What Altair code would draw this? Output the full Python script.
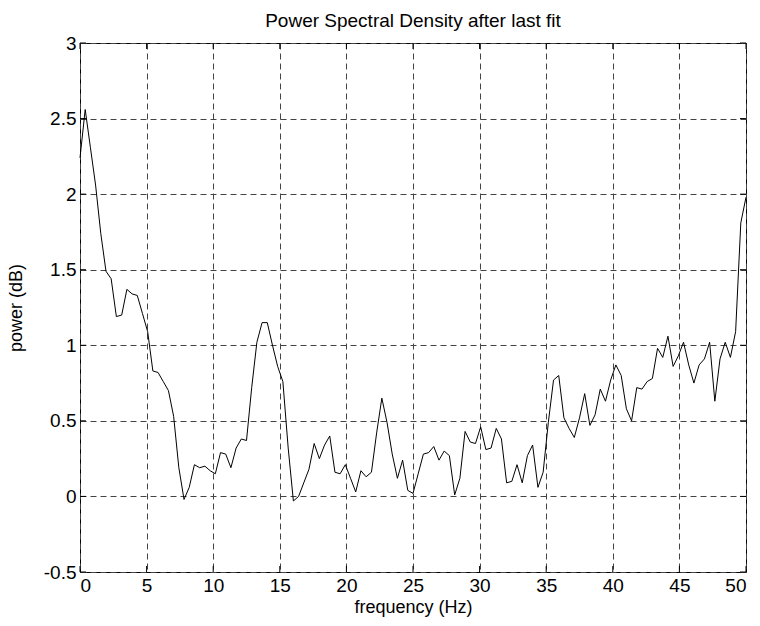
import altair as alt
import pandas as pd

# frequency bins (Hz)
freq = [
    0.00, 0.39, 0.78, 1.17, 1.56, 1.95, 2.34, 2.73, 3.13, 3.52,
    3.91, 4.30, 4.69, 5.08, 5.47, 5.86, 6.25, 6.64, 7.03, 7.42,
    7.81, 8.20, 8.59, 8.98, 9.38, 9.77, 10.16, 10.55, 10.94, 11.33,
    11.72, 12.11, 12.50, 12.89, 13.28, 13.67, 14.06, 14.45, 14.84, 15.23,
    15.63, 16.02, 16.41, 16.80, 17.19, 17.58, 17.97, 18.36, 18.75, 19.14,
    19.53, 19.92, 20.31, 20.70, 21.09, 21.48, 21.88, 22.27, 22.66, 23.05,
    23.44, 23.83, 24.22, 24.61, 25.00, 25.39, 25.78, 26.17, 26.56, 26.95,
    27.34, 27.73, 28.13, 28.52, 28.91, 29.30, 29.69, 30.08, 30.47, 30.86,
    31.25, 31.64, 32.03, 32.42, 32.81, 33.20, 33.59, 33.98, 34.38, 34.77,
    35.16, 35.55, 35.94, 36.33, 36.72, 37.11, 37.50, 37.89, 38.28, 38.67,
    39.06, 39.45, 39.84, 40.23, 40.63, 41.02, 41.41, 41.80, 42.19, 42.58,
    42.97, 43.36, 43.75, 44.14, 44.53, 44.92, 45.31, 45.70, 46.09, 46.48,
    46.88, 47.27, 47.66, 48.05, 48.44, 48.83, 49.22, 49.61, 50.00,
]

# power (dB)
power = [
    2.24, 2.56, 2.31, 2.06, 1.74, 1.49, 1.44, 1.19, 1.20, 1.37,
    1.34, 1.33, 1.21, 1.09, 0.83, 0.82, 0.76, 0.70, 0.53, 0.19,
    -0.02, 0.06, 0.21, 0.19, 0.20, 0.17, 0.15, 0.29, 0.28, 0.19,
    0.32, 0.38, 0.37, 0.72, 1.02, 1.15, 1.15, 1.00, 0.86, 0.76,
    0.32, -0.03, 0.00, 0.09, 0.18, 0.35, 0.25, 0.34, 0.40, 0.16,
    0.15, 0.21, 0.12, 0.03, 0.17, 0.13, 0.16, 0.42, 0.65, 0.49,
    0.28, 0.12, 0.24, 0.04, 0.02, 0.15, 0.28, 0.29, 0.33, 0.24,
    0.30, 0.27, 0.01, 0.12, 0.43, 0.36, 0.35, 0.46, 0.31, 0.32,
    0.45, 0.38, 0.09, 0.10, 0.21, 0.09, 0.27, 0.34, 0.06, 0.16,
    0.49, 0.77, 0.80, 0.52, 0.45, 0.39, 0.52, 0.68, 0.47, 0.54,
    0.71, 0.63, 0.77, 0.87, 0.80, 0.58, 0.50, 0.72, 0.71, 0.76,
    0.78, 0.98, 0.92, 1.06, 0.86, 0.93, 1.02, 0.87, 0.75, 0.87,
    0.91, 1.02, 0.63, 0.91, 1.02, 0.92, 1.09, 1.81, 1.98,
]

x_ticks = [0, 5, 10, 15, 20, 25, 30, 35, 40, 45, 50]
y_ticks = [-0.5, 0, 0.5, 1, 1.5, 2, 2.5, 3]

W, H = 666, 529
FONT = "Liberation Sans"

df = pd.DataFrame({"freq": freq, "power": power})
xt = pd.DataFrame({"t": x_ticks})
yt = pd.DataFrame({"t": y_ticks})

xscale = alt.Scale(domain=[0, 50], nice=False, zero=False)
yscale = alt.Scale(domain=[-0.5, 3], nice=False, zero=False)

line = alt.Chart(df).mark_line(color="black", strokeWidth=1).encode(
    x=alt.X("freq:Q", scale=xscale, title="frequency (Hz)",
            axis=alt.Axis(values=x_ticks, grid=True, ticks=False, domain=False,
                          labelPadding=4, titlePadding=3,
                          labelExpr="toString(datum.value)")),
    y=alt.Y("power:Q", scale=yscale, title="power (dB)",
            axis=alt.Axis(values=y_ticks, grid=True, ticks=False, domain=False,
                          labelPadding=4, titlePadding=18,
                          labelExpr="toString(datum.value)")),
)

tick_len = 6
xt_bottom = alt.Chart(xt).mark_rule(color="black", strokeWidth=1).encode(
    x=alt.X("t:Q", scale=xscale), y=alt.value(H), y2=alt.value(H - tick_len))
xt_top = alt.Chart(xt).mark_rule(color="black", strokeWidth=1).encode(
    x=alt.X("t:Q", scale=xscale), y=alt.value(0), y2=alt.value(tick_len))
yt_left = alt.Chart(yt).mark_rule(color="black", strokeWidth=1).encode(
    y=alt.Y("t:Q", scale=yscale), x=alt.value(0), x2=alt.value(tick_len))
yt_right = alt.Chart(yt).mark_rule(color="black", strokeWidth=1).encode(
    y=alt.Y("t:Q", scale=yscale), x=alt.value(W - tick_len), x2=alt.value(W))

chart = alt.layer(line, xt_bottom, xt_top, yt_left, yt_right).properties(
    width=W, height=H,
    title=alt.TitleParams("Power Spectral Density after last fit", anchor="middle",
                          fontSize=19, fontWeight="normal", font=FONT,
                          color="black", frame="group", offset=3),
    padding={"left": 80, "top": 43, "right": 14, "bottom": 54},
    autosize=alt.AutoSizeParams(type="none"),
    background="white",
).configure_axis(
    labelFont=FONT, titleFont=FONT, labelFontSize=19, titleFontSize=18,
    labelColor="black", titleColor="black", titleFontWeight="normal",
    gridColor="#444444", gridOpacity=1, gridDash=[6, 4], gridWidth=1,
).configure_view(
    stroke="black", strokeWidth=1,
)

chart.save("out.html", embed_options={"renderer": "svg", "actions": False})
